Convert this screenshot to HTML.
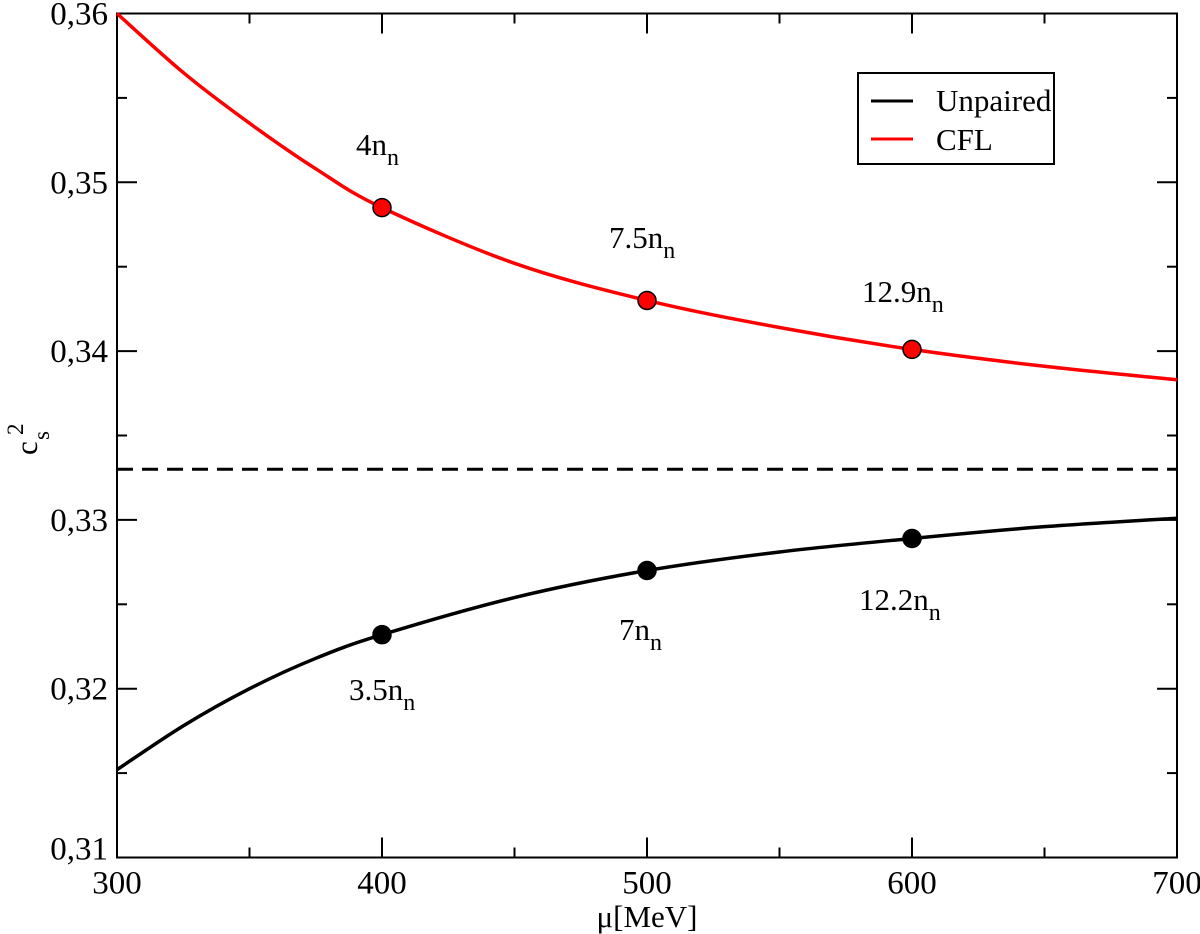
<!DOCTYPE html>
<html><head><meta charset="utf-8"><style>
html,body{margin:0;padding:0;background:#fff;font-family:"Liberation Serif","Times New Roman","DejaVu Serif",serif;}
svg{display:block;}
svg text{font-family:"Liberation Serif","Times New Roman","DejaVu Serif",serif;}
</style></head><body>
<svg id="chart" width="1200" height="934">
<g id="axes"></g>
<g id="series"></g>
<g id="legend">
 <rect x="858" y="73" width="196" height="91" fill="#fff" stroke="#000" stroke-width="2"/>
 <line x1="871" y1="101" x2="913" y2="101" stroke="#000" stroke-width="3"/>
 <text x="936" y="111" font-size="31">Unpaired</text>
 <line x1="871" y1="139" x2="913" y2="139" stroke="#f00" stroke-width="3"/>
 <text x="936" y="150" font-size="31">CFL</text>
</g>
<text x="647" y="927" font-size="31" text-anchor="middle">μ[MeV]</text>
<g transform="translate(37,455) rotate(-90)">
 <text x="0" y="0" font-size="31">c</text>
 <text x="15" y="12" font-size="23">s</text>
 <text x="20" y="-14" font-size="23">2</text>
</g>
</svg>
<script>
const xVals=[300,325,350,375,400,450,500,550,600,650,700];
const cflVals=[0.3600,0.3565,0.3535,0.3508,0.3485,0.3452,0.3430,0.3414,0.3401,0.3391,0.3383];
const unpVals=[0.3152,0.3178,0.3200,0.3218,0.3232,0.3254,0.3270,0.3281,0.3289,0.3296,0.3301];
const markerX=[400,500,600];
const cflMarkers=[0.3485,0.3430,0.3401];
const unpMarkers=[0.3232,0.3270,0.3289];
const cflLabels=[["4","n"],["7.5","n"],["12.9","n"]];
const unpLabels=[["3.5","n"],["7","n"],["12.2","n"]];
const conformal=[0.333];
const xTicks=[300,400,500,600,700];
const yTicks=[0.31,0.32,0.33,0.34,0.35,0.36];
const yTickLabels=["0,31","0,32","0,33","0,34","0,35","0,36"];

const L=117,R=1177,T=13.5,B=857.5;
const sx=v=>L+(v-300)/400*(R-L);
const sy=v=>B-(v-0.31)/0.05*(B-T);
const NS="http://www.w3.org/2000/svg";
function mk(tag,attrs,parent){const e=document.createElementNS(NS,tag);for(const k in attrs)e.setAttribute(k,attrs[k]);parent.appendChild(e);return e;}
const axes=document.getElementById('axes'),ser=document.getElementById('series');

const fr=mk('rect',{x:L,y:T,width:R-L,height:B-T,fill:'none',stroke:'#000','stroke-width':2},axes);


for(let v=300;v<=700;v+=50){
 const major=(v%100===0);const len=major?20:10;const x=sx(v);
 if(v>300&&v<700){
 const t1=mk('line',{x1:x,y1:B,x2:x,y2:B-len,stroke:'#000','stroke-width':2},axes);
 
 
 const t2=mk('line',{x1:x,y1:T,x2:x,y2:T+len,stroke:'#000','stroke-width':2},axes);
 
 }
}
xTicks.forEach(v=>{
 const t=mk('text',{x:sx(v),y:B+36,'font-size':33,'text-anchor':'middle'},axes);t.textContent=v;
 
 
});
for(let i=0;i<=10;i++){
 const v=0.31+i*0.005;const major=i%2===0;const len=major?20:10;const y=sy(v);
 if(i>0&&i<10){
 const t1=mk('line',{x1:L,y1:y,x2:L+len,y2:y,stroke:'#000','stroke-width':2},axes);
 
 
 const t2=mk('line',{x1:R,y1:y,x2:R-len,y2:y,stroke:'#000','stroke-width':2},axes);
 
 }
}
yTicks.forEach((v,i)=>{
 const t=mk('text',{x:L-9,y:sy(v)+(i===0?9:(i===5?11:11)),'font-size':33,'text-anchor':'end'},axes);t.textContent=yTickLabels[i];
 if(i===0)t.setAttribute('y',sy(v)+2);
 
 
});
const dl=mk('line',{x1:L,y1:sy(conformal[0]),x2:R,y2:sy(conformal[0]),stroke:'#000','stroke-width':3,'stroke-dasharray':'16,9'},ser);



function curve(vals){
 const p=xVals.map((x,i)=>[sx(x),sy(vals[i])]);
 let d=`M${p[0][0]},${p[0][1]}`;
 for(let i=0;i<p.length-1;i++){
  const p0=p[Math.max(0,i-1)],p1=p[i],p2=p[i+1],p3=p[Math.min(p.length-1,i+2)];
  const c1=[p1[0]+(p2[0]-p0[0])/6,p1[1]+(p2[1]-p0[1])/6];
  const c2=[p2[0]-(p3[0]-p1[0])/6,p2[1]-(p3[1]-p1[1])/6];
  d+=` C${c1[0]},${c1[1]} ${c2[0]},${c2[1]} ${p2[0]},${p2[1]}`;
 }
 return d;
}
const cp=mk('path',{d:curve(cflVals),fill:'none',stroke:'#f00','stroke-width':3.5},ser);


const up=mk('path',{d:curve(unpVals),fill:'none',stroke:'#000','stroke-width':3.5},ser);



function label(x,y,lab){
 const t=mk('text',{x:x,y:y,'font-size':31,'text-anchor':'start'},ser);
 const a=mk('tspan',{},t);a.textContent=lab[0]+lab[1];
 const b=mk('tspan',{dy:10,'font-size':24},t);b.textContent='n';
 
 
 return t;
}
markerX.forEach((m,i)=>{
 const c=mk('circle',{cx:sx(m),cy:sy(cflMarkers[i]),r:9,fill:'#f00',stroke:'#000','stroke-width':1.5},ser);
 
 
 const c2=mk('circle',{cx:sx(m),cy:sy(unpMarkers[i]),r:9,fill:'#000',stroke:'#000','stroke-width':1.5},ser);
 
 
});
const cflLabPos=[[356,155],[609,248],[862,302]];
const unpLabPos=[[349,700],[619,640],[859,610]];
cflLabels.forEach((l,i)=>label(cflLabPos[i][0],cflLabPos[i][1],l));
unpLabels.forEach((l,i)=>label(unpLabPos[i][0],unpLabPos[i][1],l));
</script>
</body></html>
